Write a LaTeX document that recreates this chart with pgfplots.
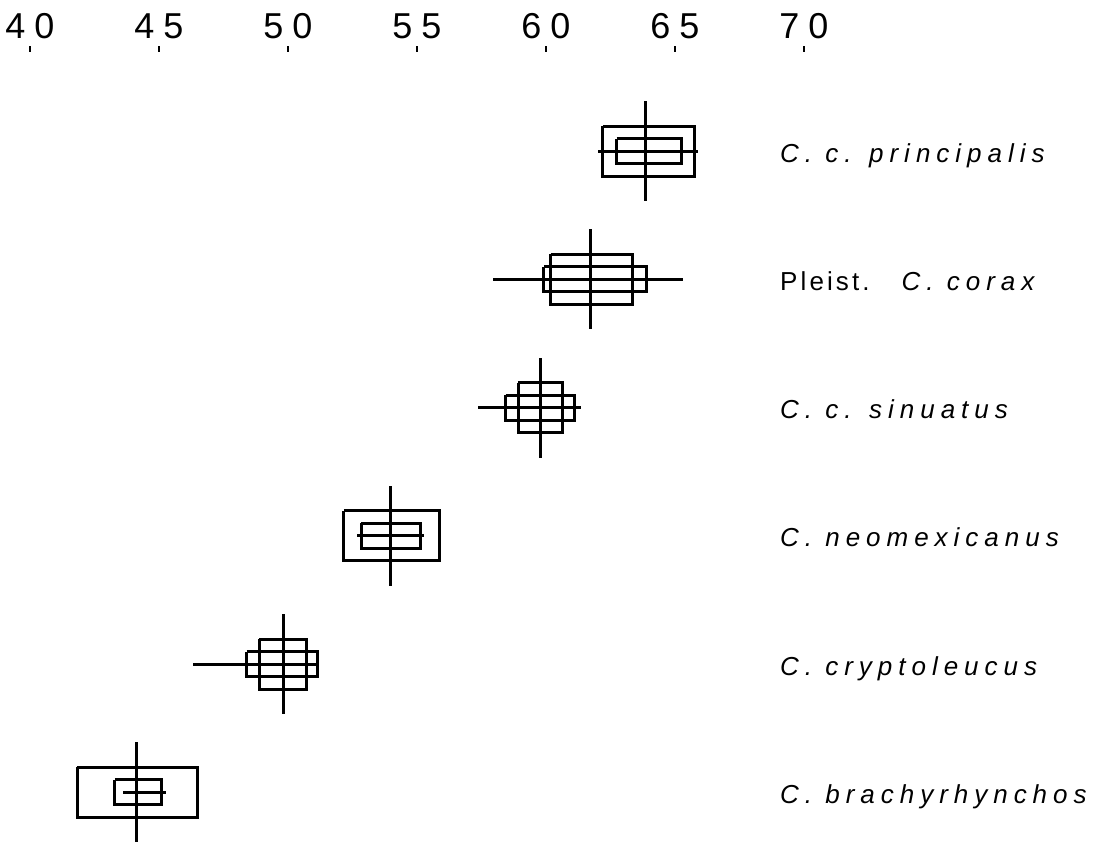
\documentclass[border=0pt]{standalone}
\usepackage{pgfplots}
\pgfplotsset{compat=1.18}
\usepackage{pgfplotstable}
\usepackage{fontspec}
\setmainfont{Liberation Sans}
\newfontfamily\lab[LetterSpace=23]{Liberation Sans}
\newfontfamily\labup[LetterSpace=12]{Liberation Sans}

% row 0 = top; mean, range (lo, hi)
\pgfplotstableread{
row mean lo hi
0 6.386 6.202 6.589
1 6.174 5.793 6.531
2 5.977 5.738 6.136
3 5.398 5.266 5.527
4 4.982 4.633 5.117
5 4.411 4.362 4.527
}\stats

\begin{document}
\begin{tikzpicture}
\begin{axis}[
    at={(0,0)}, anchor=north west,
    scale only axis, width=1111pt, height=798pt,
    xmin=3.88372, xmax=8.18992,
    ymin=-0.8187, ymax=5.403, y dir=reverse,
    axis x line*=top, axis y line=none,
    x axis line style={draw=none},
    xtick={4,4.5,5,5.5,6,6.5,7},
    xticklabels={4\hspace{9pt}0,4\hspace{9pt}5,5\hspace{9pt}0,5\hspace{9pt}5,6\hspace{9pt}0,6\hspace{9pt}5,7\hspace{9pt}0},
    xticklabel style={font=\fontsize{36}{40}\selectfont, anchor=base, yshift=8pt},
    tick align=inside, major tick length=6pt,
    xtick style={draw=black, line width=2pt},
    clip=false,
]
% SD / SE rectangles
\addplot[black, line width=3pt, mark=none, unbounded coords=jump] coordinates {
(6.220,-0.195) (6.577,-0.195) (6.577,0.195) (6.220,0.195) (6.220,-0.195) (nan,nan)
(6.274,-0.0975) (6.526,-0.0975) (6.526,0.0975) (6.274,0.0975) (6.274,-0.0975) (nan,nan)
(6.018,0.805) (6.334,0.805) (6.334,1.195) (6.018,1.195) (6.018,0.805) (nan,nan)
(5.992,0.9025) (6.390,0.9025) (6.390,1.0975) (5.992,1.0975) (5.992,0.9025) (nan,nan)
(5.893,1.805) (6.065,1.805) (6.065,2.195) (5.893,2.195) (5.893,1.805) (nan,nan)
(5.844,1.9025) (6.112,1.9025) (6.112,2.0975) (5.844,2.0975) (5.844,1.9025) (nan,nan)
(5.217,2.805) (5.586,2.805) (5.586,3.195) (5.217,3.195) (5.217,2.805) (nan,nan)
(5.283,2.9025) (5.512,2.9025) (5.512,3.0975) (5.283,3.0975) (5.283,2.9025) (nan,nan)
(4.888,3.805) (5.072,3.805) (5.072,4.195) (4.888,4.195) (4.888,3.805) (nan,nan)
(4.840,3.9025) (5.114,3.9025) (5.114,4.0975) (4.840,4.0975) (4.840,3.9025) (nan,nan)
(4.183,4.805) (4.650,4.805) (4.650,5.195) (4.183,5.195) (4.183,4.805) (nan,nan)
(4.329,4.9025) (4.510,4.9025) (4.510,5.0975) (4.329,5.0975) (4.329,4.9025)
};
% range (horizontal) and mean (vertical)
\addplot[draw=none, mark=none,
    error bars/.cd, x dir=both, x explicit, y dir=both, y fixed=0.39,
    error mark=none, error bar style={draw=black, line width=3pt}]
    table[x=mean, y=row,
          x error plus expr=\thisrow{hi}-\thisrow{mean},
          x error minus expr=\thisrow{mean}-\thisrow{lo}] {\stats};
% names
\addplot[only marks, mark=none, nodes near coords, point meta=explicit symbolic,
    nodes near coords style={anchor=base west, inner sep=0pt, yshift=-11pt,
      font=\lab\fontsize{26}{30}\selectfont, text=black}]
    coordinates {
(6.907,0) [\itshape C. c. principalis]
(6.907,1) [{\labup Pleist.}\hspace{32pt}{\itshape C. corax}]
(6.907,2) [\itshape C. c. sinuatus]
(6.907,3) [\itshape C. neomexicanus]
(6.907,4) [\itshape C. cryptoleucus]
(6.907,5) [\itshape C. brachyrhynchos]
};
\end{axis}
\pgfresetboundingbox
\path[use as bounding box] (0,46pt) rectangle (1111pt,-798pt);
\end{tikzpicture}
\end{document}
